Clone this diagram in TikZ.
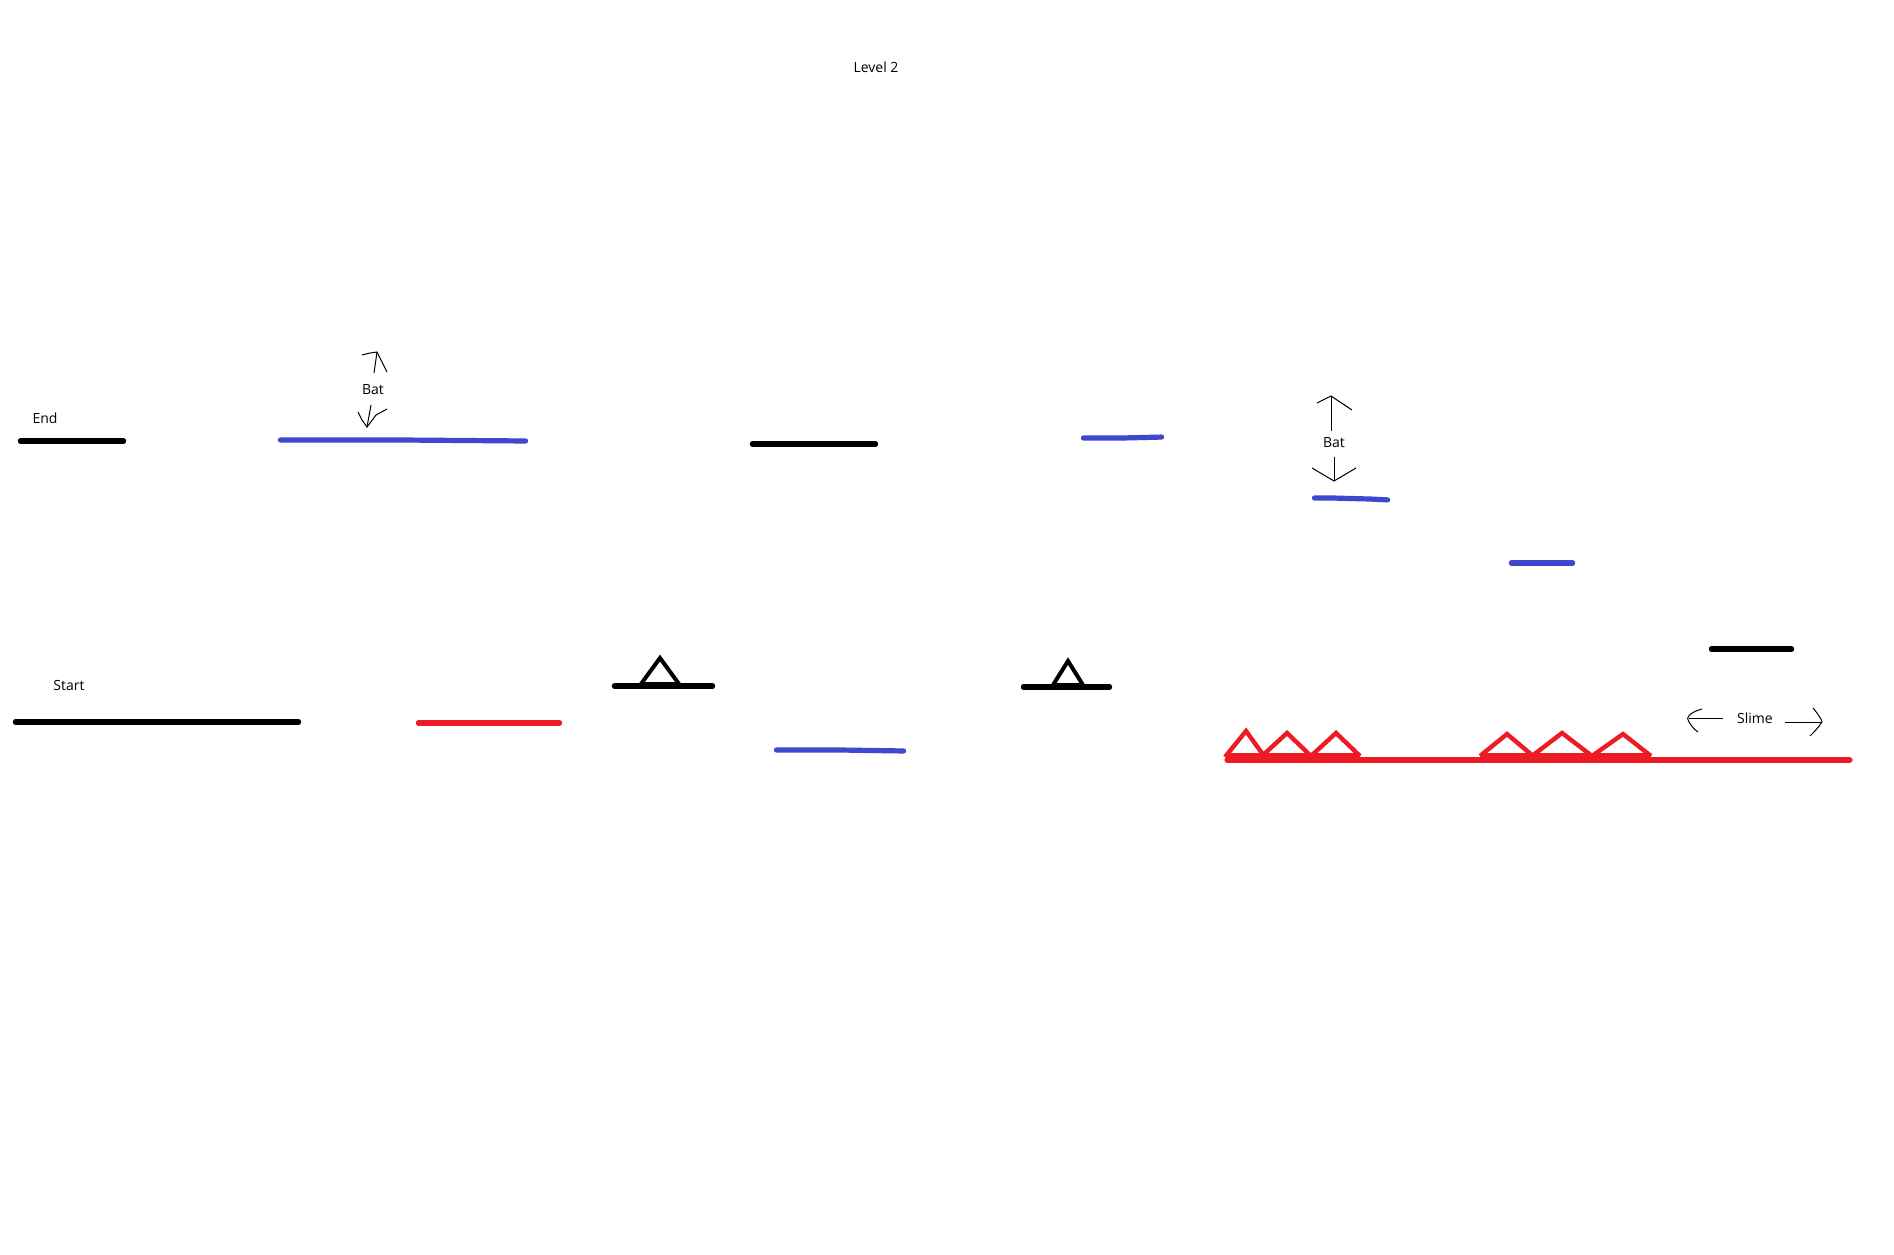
\documentclass[tikz,border=0pt]{standalone}
\usepackage{fontspec}
\setmainfont{Open Sans}
\definecolor{pblue}{RGB}{63,72,204}
\definecolor{pred}{RGB}{237,28,36}
\tikzset{
  plat/.style={line width=2.6pt, line cap=round, shorten <=1.2pt, shorten >=1.2pt},
  blk/.style={plat, black},
  blu/.style={plat, pblue},
  redp/.style={plat, pred},
  spike/.style={line width=2.2pt, pred, line join=miter},
  bump/.style={line width=2pt, black, line join=miter},
  pen/.style={line width=0.5pt, black},
  lbl/.style={font=\fontsize{7pt}{8pt}\selectfont, inner sep=0pt, text=black},
}
\begin{document}
\begin{tikzpicture}[x=0.5pt,y=-0.5pt]
\useasboundingbox[fill=white] (0,0) rectangle (1894,1254);

% labels
\node[lbl] (level) at (876,67) {Level 2};
\node[lbl] (endl) at (45,418) {End};
\node[lbl] (startl) at (69,685) {Start};
\node[lbl] (bat1) at (373,390) {Bat};
\node[lbl] (bat2) at (1334,443) {Bat};
\node[lbl] (slime) at (1755,718) {Slime};

% black platforms
\draw[blk] (18,441) -- (126,441);
\draw[blk] (13,722) -- (301,722);
\draw[blk] (750,444) -- (878,444);
\draw[blk] (1709,649) -- (1794,649);
\draw[blk] (612,686) -- (715,686);
\draw[blk] (1021,687) -- (1112,687);
\draw[bump] (641,684) -- (660,658) -- (679,684) -- cycle;
\draw[line width=2.4pt] (641,684) -- (679,684);
\draw[bump] (1053,685) -- (1068,661) -- (1083,685) -- cycle;

% blue platforms
\draw[blu] (278,440) -- (402,440) -- (528,441);
\draw[blu] (1081,438) -- (1122,438) -- (1164,437);
\draw[blu] (1312,498) -- (1332,498) -- (1370,499) -- (1390,500);
\draw[blu] (1509,563) -- (1575,563);
\draw[blu] (774,750) -- (840,750) -- (906,751);

% red platforms
\draw[redp] (416,723) -- (562,723);
\draw[redp, line width=3pt] (1225,760) -- (1852,760);
% spikes group 1
\draw[spike] (1225,757) -- (1246,731) -- (1264,756);
\draw[spike] (1262,756) -- (1287,733) -- (1311,756);
\draw[spike] (1311,756) -- (1336,733) -- (1360,756);
\draw[spike] (1225,755) -- (1360,755);
% spikes group 2
\draw[spike] (1480,756) -- (1507,734) -- (1533,756);
\draw[spike] (1532,756) -- (1562,733) -- (1592,756);
\draw[spike] (1592,756) -- (1623,734) -- (1651,756);
\draw[spike] (1480,755) -- (1651,755);

% bat 1 arrows
\draw[pen] (374,373) -- (377,352);
\draw[pen] (362,355) -- (370,353) -- (377,352) -- (382,362) -- (387,372);
\draw[pen] (371,405) -- (369,416) -- (367,427);
\draw[pen] (358,412) -- (362,420) -- (367,427) -- (376,415) -- (387,409);

% bat 2 arrows
\draw[pen] (1331,431) -- (1331,396);
\draw[pen] (1317,403) -- (1331,396) -- (1352,410);
\draw[pen] (1334,457) -- (1334,481);
\draw[pen] (1312,468) -- (1334,481) -- (1356,468);

% slime arrows
\draw[pen] (1723,718) -- (1689,718);
\draw[pen] (1702,709) .. controls (1690,712) and (1685,718) .. (1689,722) .. controls (1692,727) and (1695,730) .. (1698,732);
\draw[pen] (1785,722) -- (1822,722);
\draw[pen] (1813,708) .. controls (1818,714) and (1822,720) .. (1822,722) .. controls (1818,728) and (1814,732) .. (1810,736);
\end{tikzpicture}
\end{document}
